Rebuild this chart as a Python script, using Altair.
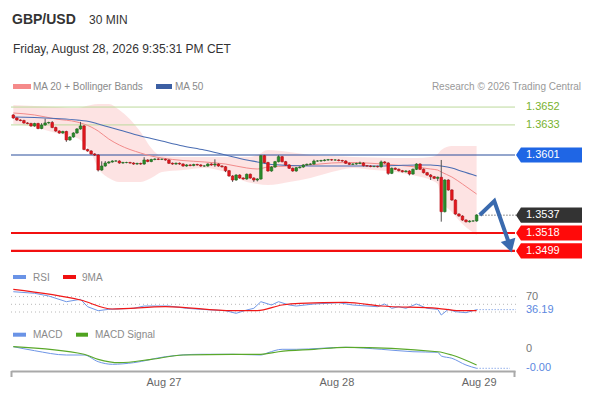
import altair as alt
import pandas as pd

FONT = "Liberation Sans"

# ---------------- data ----------------
first_open = 1.36436
closes = [
    1.36404, 1.36382, 1.36377, 1.36351, 1.36345, 1.36319, 1.36345, 1.36292, 1.36329, 1.36351, 1.36356, 1.36303,
    1.36265, 1.36244, 1.36260, 1.36170, 1.36202, 1.36244, 1.36287, 1.36319, 1.36069, 1.36053, 1.36021, 1.36010,
    1.35850, 1.35893, 1.35925, 1.35936, 1.35946, 1.35946, 1.35925, 1.35930, 1.35930, 1.35925, 1.35914, 1.35920,
    1.35914, 1.35957, 1.35941, 1.35962, 1.35967, 1.35964, 1.35964, 1.35957, 1.35922, 1.35914, 1.35922, 1.35914,
    1.35893, 1.35904, 1.35898, 1.35909, 1.35904, 1.35893, 1.35893, 1.35914, 1.35904, 1.35914, 1.35893, 1.35885,
    1.35843, 1.35787, 1.35744, 1.35797, 1.35765, 1.35755, 1.35805, 1.35765, 1.35744, 1.35755, 1.36003, 1.35930,
    1.35840, 1.35882, 1.35939, 1.35992, 1.35939, 1.35904, 1.35869, 1.35840, 1.35875, 1.35882, 1.35904, 1.35911,
    1.35914, 1.35946, 1.35946, 1.35951, 1.35957, 1.35960, 1.35957, 1.35957, 1.35951, 1.35946, 1.35922, 1.35911,
    1.35914, 1.35920, 1.35925, 1.35896, 1.35893, 1.35888, 1.35888, 1.35885, 1.35936, 1.35925, 1.35815, 1.35869,
    1.35858, 1.35843, 1.35832, 1.35840, 1.35808, 1.35858, 1.35914, 1.35858, 1.35822, 1.35797, 1.35779, 1.35762,
    1.35773, 1.35407, 1.35744, 1.35638, 1.35531, 1.35382, 1.35361, 1.35318, 1.35300, 1.35308, 1.35308, 1.35372,
]
upper_wick_pips = [
    0.8, 0.8, 0.8, 0.8, 0.8, 0.8, 0.8, 0.8, 2.0, 4.5, 0.8, 1.5,
    0.8, 0.8, 0.8, 0.8, 0.8, 0.8, 0.8, 4.3, 1.0, 0.8, 0.8, 0.8,
    0.8, 5.0, 2.0, 0.8, 0.8, 0.8, 0.8, 0.8, 0.8, 0.8, 0.8, 0.8,
    0.8, 3.0, 0.8, 0.8, 0.8, 0.8, 0.8, 0.8, 0.8, 0.8, 0.8, 0.8,
    0.8, 0.8, 0.8, 0.8, 0.8, 0.8, 0.8, 0.8, 0.8, 5.0, 0.8, 0.8,
    0.8, 0.8, 0.8, 0.8, 0.8, 0.8, 0.8, 0.8, 0.8, 0.8, 0.7, 0.8,
    0.8, 0.8, 0.8, 1.5, 0.8, 0.8, 0.8, 0.8, 0.8, 0.8, 0.8, 0.8,
    0.8, 1.5, 0.8, 0.8, 0.8, 0.8, 0.8, 0.8, 0.8, 0.8, 0.8, 0.8,
    0.8, 0.8, 1.5, 0.8, 0.8, 0.8, 0.8, 0.8, 1.5, 0.8, 0.8, 0.8,
    0.8, 0.8, 0.8, 0.8, 0.8, 0.8, 0.8, 0.8, 0.8, 0.8, 1.0, 0.8,
    0.8, 18.4, 0.8, 0.8, 0.8, 0.8, 0.8, 0.8, 0.8, 0.8, 0.8, 0.8,
]
lower_wick_pips = [
    0.8, 0.8, 0.8, 0.8, 0.8, 0.8, 0.8, 0.8, 0.8, 0.8, 0.8, 0.8,
    0.8, 0.8, 0.8, 2.0, 0.8, 0.8, 0.8, 0.8, 0.8, 0.8, 0.8, 1.0,
    1.5, 0.8, 0.8, 0.8, 0.8, 0.8, 0.8, 0.8, 0.8, 0.8, 0.8, 0.8,
    0.8, 0.8, 0.8, 0.8, 0.8, 0.8, 0.8, 0.8, 0.8, 0.8, 0.8, 0.8,
    0.8, 0.8, 0.8, 0.8, 0.8, 0.8, 0.8, 0.8, 0.8, 2.0, 0.8, 0.8,
    1.5, 0.8, 2.0, 0.8, 0.8, 0.8, 0.8, 0.8, 2.0, 1.5, 0.8, 0.8,
    0.8, 0.8, 0.8, 0.8, 0.8, 0.8, 0.8, 0.8, 0.8, 0.8, 0.8, 0.8,
    0.8, 0.8, 0.8, 0.8, 0.8, 0.8, 0.8, 0.8, 0.8, 0.8, 0.8, 0.8,
    0.8, 0.8, 0.8, 0.8, 0.8, 0.8, 0.8, 0.8, 0.8, 0.8, 1.5, 0.8,
    0.8, 0.8, 0.8, 0.8, 1.5, 0.8, 0.8, 0.8, 0.8, 0.8, 3.5, 0.8,
    2.9, 10.6, 0.8, 0.8, 0.8, 0.8, 0.8, 0.8, 0.8, 0.8, 0.8, 0.8,
]

ind_idx = [0, 6, 12, 18, 22, 24, 27, 30, 36, 39, 42, 48, 54, 60, 66, 69, 72, 78, 84, 90,
           96, 102, 108, 114, 118, 120, 121, 124, 127, 131]
ma20 = [1.36457, 1.36436, 1.36393, 1.36361, 1.36308, 1.36265, 1.36180, 1.36116, 1.36031, 1.35999,
        1.35978, 1.35951, 1.35936, 1.35914, 1.35872, 1.35861, 1.35882, 1.35893, 1.35904, 1.35925,
        1.35930, 1.35920, 1.35904, 1.35882, 1.35861, 1.35850, 1.35829, 1.35776, 1.35701, 1.35595]
ma50 = [1.36414, 1.36409, 1.36398, 1.36382, 1.36361, 1.36340, 1.36308, 1.36276, 1.36212, 1.36186,
        1.36159, 1.36106, 1.36063, 1.36010, 1.35957, 1.35936, 1.35914, 1.35898, 1.35893, 1.35893,
        1.35893, 1.35893, 1.35898, 1.35904, 1.35904, 1.35898, 1.35893, 1.35872, 1.35834, 1.35787]
bb_upper = [1.36542, 1.36531, 1.36521, 1.36510, 1.36542, 1.36553, 1.36553, 1.36489, 1.36255, 1.36084,
            1.35999, 1.35989, 1.35989, 1.35989, 1.35989, 1.36010, 1.36063, 1.36042, 1.36010, 1.35999,
            1.35989, 1.35983, 1.35978, 1.35978, 1.35989, 1.36021, 1.36063, 1.36106, 1.36106, 1.36106]
bb_lower = [1.36340, 1.36308, 1.36244, 1.36191, 1.36031, 1.35872, 1.35765, 1.35723, 1.35723, 1.35765,
            1.35829, 1.35850, 1.35872, 1.35829, 1.35723, 1.35701, 1.35691, 1.35723, 1.35765, 1.35829,
            1.35872, 1.35850, 1.35829, 1.35787, 1.35744, 1.35701, 1.35531, 1.35404, 1.35276, 1.35159]

rsi_idx = [0, 6, 10, 15, 19, 21, 24, 27, 34, 37, 44, 49, 53, 60, 63, 66, 68, 70, 73, 75, 78, 80, 85,
           92, 96, 103, 105, 107, 109, 111, 114, 117, 120, 121, 123, 125, 128, 131]
rsi_val = [82.7, 78.6, 71.6, 56.8, 63.0, 43.8, 33.4, 37.0, 39.6, 45.6, 45.6, 39.6, 37.0, 33.4, 26.6,
           35.2, 39.6, 56.8, 48.2, 56.8, 48.2, 45.6, 50.8, 54.2, 48.2, 43.8, 50.8, 39.6, 43.8, 39.6,
           50.8, 39.6, 37.0, 22.2, 37.0, 30.8, 28.2, 36.19]
rsi_ma_idx = [0, 19, 28, 43, 62, 69, 76, 81, 94, 104, 120, 126, 131]
rsi_ma_val = [89.0, 61.2, 37.8, 43.8, 33.4, 33.4, 48.2, 52.6, 55.2, 45.6, 39.6, 33.4, 33.4]
rsi_levels = [70, 50, 30]
rsi_last = 36.19

macd_idx = [0, 6, 15, 20, 24, 28, 34, 43, 53, 62, 70, 72, 76, 80, 94, 104, 113, 120, 121, 124, 128, 131]
macd_val = [0.000055, -0.000029, -0.00012, -0.00012, -0.000261, -0.000316, -0.000282, -0.000156,
            -0.000105, -0.000105, -0.00012, -0.000072, 0.0, 0.0, 0.000042, 0.0, -0.000051, -0.000063,
            -0.000141, -0.000189, -0.000331, -0.0004]
signal_idx = [0, 20, 24, 30, 39, 48, 62, 70, 75, 85, 94, 120, 124, 131]
signal_val = [0.000055, -0.000105, -0.000211, -0.000282, -0.000211, -0.00012, -0.000105, -0.000105,
              -0.000051, 0.0, 0.000042, -0.000051, -0.00012, -0.000331]
macd_last = -0.0004

green_levels = [1.3652, 1.3633]
blue_level = 1.3601
last_price = 1.3537
red_levels = [1.3518, 1.3499]
arrow_idx = [131.9, 136.0, 139.9]
arrow_price = [1.35372, 1.35520, 1.35100]
arrow_head = (140.4, 1.35040)
day_idx = [42.6, 91.5, 131.7]
day_labels = ["Aug 27", "Aug 28", "Aug 29"]

# ---------------- frames ----------------
opens = [first_open] + closes[:-1]
candles = pd.DataFrame({
    "i": list(range(len(closes))),
    "o": opens,
    "c": closes,
    "hi": [max(o, c) + u * 1e-4 for o, c, u in zip(opens, closes, upper_wick_pips)],
    "lo": [min(o, c) - d * 1e-4 for o, c, d in zip(opens, closes, lower_wick_pips)],
})
ind = pd.DataFrame({"i": ind_idx, "ma20": ma20, "ma50": ma50, "up": bb_upper, "dn": bb_lower})
one = pd.DataFrame({"a": [0]})

# ---------------- scales ----------------
W, H = 504, 271
xs = alt.Scale(domain=[-0.65, 141.85], nice=False, zero=False, padding=0)
x_axis = alt.Axis(labels=False, ticks=False, grid=False, domain=True, domainColor="#a9a9a9",
                  domainWidth=2, title=None)
ps = alt.Scale(domain=[1.337121, 1.365951], nice=False, zero=False)
rs = alt.Scale(domain=[-123.2, 580.6], nice=False, zero=False)
ms = alt.Scale(domain=[-0.00045684, 0.0052484], nice=False, zero=False)


def X(f="i"):
    return alt.X(f + ":Q", scale=xs, axis=x_axis)


def PY(f):
    return alt.Y(f + ":Q", scale=ps, axis=None)


def txt(s, x, y, size=10, color="#8a8a8a", weight="normal", align="left", baseline="alphabetic"):
    return alt.Chart(one).mark_text(text=s, fontSize=size, color=color, fontWeight=weight, align=align,
                                    baseline=baseline, font=FONT).encode(x=alt.value(x), y=alt.value(y))


def swatch(x1, x2, y1, y2, color):
    return alt.Chart(one).mark_rect(color=color).encode(
        x=alt.value(x1), x2=alt.value(x2), y=alt.value(y1), y2=alt.value(y2))


layers = []

# Bollinger band + MAs
layers.append(alt.Chart(ind).mark_area(color="#fde0e0", opacity=0.9, interpolate="monotone").encode(
    x=X(), y=PY("up"), y2=alt.Y2("dn:Q")))

# horizontal levels
lv = pd.DataFrame({"p": green_levels})
layers.append(alt.Chart(lv).mark_rule(color="#bcd99c", strokeWidth=1).encode(y=PY("p")))
layers.append(alt.Chart(pd.DataFrame({"p": [blue_level]})).mark_rule(color="#2b4f9c", strokeWidth=1.2).encode(y=PY("p")))
layers.append(alt.Chart(pd.DataFrame({"p": red_levels})).mark_rule(color="#f21010", strokeWidth=2.2).encode(y=PY("p")))

layers.append(alt.Chart(ind).mark_line(color="#f28b8b", strokeWidth=1, interpolate="monotone").encode(
    x=X(), y=PY("ma20")))
layers.append(alt.Chart(ind).mark_line(color="#4a6db3", strokeWidth=1.1, interpolate="monotone").encode(
    x=X(), y=PY("ma50")))

# candles
layers.append(alt.Chart(candles).mark_rule(color="#505050", strokeWidth=1).encode(
    x=X(), y=PY("lo"), y2=alt.Y2("hi:Q")))
up_test = "datum.c >= datum.o"
layers.append(alt.Chart(candles).mark_bar(size=2.6, strokeWidth=0.6).encode(
    x=X(), y=PY("o"), y2=alt.Y2("c:Q"),
    color=alt.condition(up_test, alt.value("#2b8a2b"), alt.value("#e3161d")),
    stroke=alt.condition(up_test, alt.value("#1f6e1f"), alt.value("#b51015"))))

# last price dotted line
layers.append(alt.Chart(pd.DataFrame({"i": [131.8], "p": [last_price]})).mark_rule(
    color="#333333", strokeDash=[1, 2], strokeWidth=1).encode(x=X(), x2=alt.value(505), y=PY("p")))

# forecast arrow
arr = pd.DataFrame({"i": arrow_idx, "p": arrow_price, "k": [0, 1, 2]})
layers.append(alt.Chart(arr).mark_line(color="#3a6aae", strokeWidth=4, strokeCap="butt",
                                       strokeJoin="miter").encode(x=X(), y=PY("p"), order="k:Q"))
layers.append(alt.Chart(pd.DataFrame({"i": [arrow_head[0]], "p": [arrow_head[1]]})).mark_point(
    shape="triangle-down", filled=True, size=230, angle=344, color="#3a6aae", opacity=1).encode(
    x=X(), y=PY("p")))

# price labels (right)
box_path = "M -1 0 L -0.85 -0.23 L 1 -0.23 L 1 0.23 L -0.85 0.23 Z"
for p, col in [(blue_level, "#1f66e5"), (last_price, "#333333"), (red_levels[0], "#ff0a0a"), (red_levels[1], "#ff0a0a")]:
    d = pd.DataFrame({"p": [p], "t": [f"{p:.4f}"]})
    layers.append(alt.Chart(d).mark_point(shape=box_path, filled=True, size=4356, opacity=1,
                                          strokeWidth=0, color=col).encode(x=alt.value(538), y=PY("p")))
    layers.append(alt.Chart(d).mark_text(align="left", baseline="middle", color="white", fontSize=11,
                                         font=FONT).encode(x=alt.value(515), y=PY("p"), text="t:N"))
gl = pd.DataFrame({"p": green_levels, "t": [f"{v:.4f}" for v in green_levels]})
layers.append(alt.Chart(gl).mark_text(align="left", baseline="middle", color="#78b22e", fontSize=11,
                                      font=FONT).encode(x=alt.value(515), y=PY("p"), text="t:N"))

# ---------------- RSI ----------------
rl = pd.DataFrame({"v": rsi_levels})
layers.append(alt.Chart(rl).mark_rule(color="#b8b8b8", strokeDash=[1, 3], strokeWidth=1).encode(
    x=alt.value(0), x2=alt.value(505), y=alt.Y("v:Q", scale=rs, axis=None)))
rsi_df = pd.DataFrame({"i": rsi_idx, "v": rsi_val})
layers.append(alt.Chart(rsi_df).mark_line(color="#7097e6", strokeWidth=1).encode(
    x=X(), y=alt.Y("v:Q", scale=rs, axis=None)))
rma_df = pd.DataFrame({"i": rsi_ma_idx, "v": rsi_ma_val})
layers.append(alt.Chart(rma_df).mark_line(color="#f01818", strokeWidth=1.2, interpolate="monotone").encode(
    x=X(), y=alt.Y("v:Q", scale=rs, axis=None)))
layers.append(alt.Chart(pd.DataFrame({"i": [131], "v": [rsi_last]})).mark_rule(
    color="#5b87e0", strokeDash=[1, 2], strokeWidth=1).encode(
    x=X(), x2=alt.value(505), y=alt.Y("v:Q", scale=rs, axis=None)))
rlab = pd.DataFrame({"v": [70, rsi_last], "t": ["70", f"{rsi_last:.2f}"], "c": ["#777777", "#5b87e0"]})
layers.append(alt.Chart(rlab).mark_text(align="left", baseline="middle", fontSize=11, font=FONT).encode(
    x=alt.value(515), y=alt.Y("v:Q", scale=rs, axis=None), text="t:N",
    color=alt.Color("c:N", scale=None)))

# ---------------- MACD ----------------
macd_df = pd.DataFrame({"i": macd_idx, "v": macd_val})
sig_df = pd.DataFrame({"i": signal_idx, "v": signal_val})
layers.append(alt.Chart(macd_df).mark_line(color="#6e95e6", strokeWidth=1, interpolate="monotone").encode(
    x=X(), y=alt.Y("v:Q", scale=ms, axis=None)))
layers.append(alt.Chart(sig_df).mark_line(color="#5aa82a", strokeWidth=1.2, interpolate="monotone").encode(
    x=X(), y=alt.Y("v:Q", scale=ms, axis=None)))
layers.append(alt.Chart(pd.DataFrame({"i": [131], "v": [macd_last]})).mark_rule(
    color="#5b87e0", strokeDash=[1, 2], strokeWidth=1).encode(
    x=X(), x2=alt.value(499), y=alt.Y("v:Q", scale=ms, axis=None)))
mlab = pd.DataFrame({"v": [0.0, macd_last], "t": ["0", f"{macd_last:.2f}"], "c": ["#777777", "#5b87e0"]})
layers.append(alt.Chart(mlab).mark_text(align="left", baseline="middle", fontSize=11, font=FONT).encode(
    x=alt.value(515), y=alt.Y("v:Q", scale=ms, axis=None), text="t:N",
    color=alt.Color("c:N", scale=None)))

# ---------------- x axis ends + day labels ----------------
layers.append(alt.Chart(one).mark_rule(color="#a9a9a9", strokeWidth=2).encode(
    x=alt.value(0.5), y=alt.value(H), y2=alt.value(H + 6)))
layers.append(alt.Chart(one).mark_rule(color="#a9a9a9", strokeWidth=2).encode(
    x=alt.value(W - 0.5), y=alt.value(H), y2=alt.value(H + 6)))
days = pd.DataFrame({"i": day_idx, "t": day_labels})
layers.append(alt.Chart(days).mark_text(baseline="middle", fontSize=11, color="#666666", font=FONT).encode(
    x=X(), y=alt.value(H + 12), text="t:N"))

# ---------------- titles & legends ----------------
layers += [
    txt("GBP/USD", 1, -76, size=14, color="#333333", weight="bold"),
    txt("30 MIN", 78, -76.5, size=12, color="#333333"),
    txt("Friday, August 28, 2026 9:35:31 PM CET", 2, -47.3, size=12, color="#333333"),
    swatch(2, 20, -16, -11, "#f58a8a"),
    txt("MA 20 + Bollinger Bands", 22, -10),
    swatch(145, 161, -16, -11, "#3c5fa3"),
    txt("MA 50", 164, -10),
    txt("Research \u00a9 2026 Trading Central", 570, -10, color="#999999", align="right"),
    swatch(2, 15, 175, 179, "#6a93e6"),
    txt("RSI", 22, 180.7),
    swatch(52, 65, 175, 179, "#f01010"),
    txt("9MA", 71, 180.7),
    swatch(2, 15, 232.7, 236.7, "#6a93e6"),
    txt("MACD", 22, 238.3),
    swatch(65, 77, 232.7, 236.7, "#4fa31f"),
    txt("MACD Signal", 84, 238.3),
]

chart = alt.layer(*layers).resolve_scale(y="independent").properties(
    width=W, height=H,
    autosize=alt.AutoSizeParams(type="none"),
    padding={"left": 3, "top": 92, "right": 67, "bottom": 21},
    background="white",
).configure_view(stroke=None)

chart.save("out.html", embed_options={"renderer": "svg", "actions": False})
